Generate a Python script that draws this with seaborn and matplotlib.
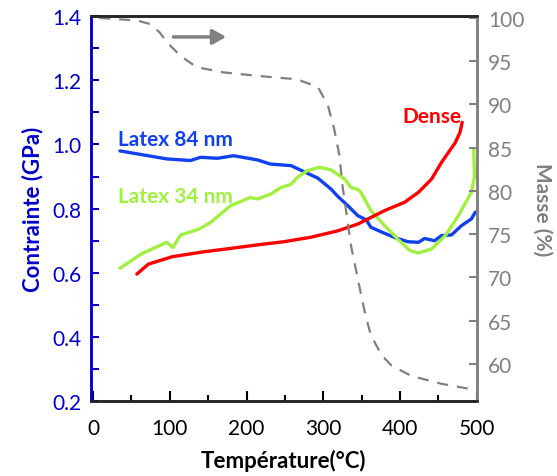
import numpy as np
import pandas as pd
import matplotlib
matplotlib.use("Agg")
from matplotlib import pyplot as plt
import seaborn as sns

# Latex 84 nm (contrainte, GPa)
t_84 = [35, 52, 96, 127, 140, 162, 183, 214, 231, 258, 275, 293, 310, 319, 332, 345,
        356, 362, 376, 393, 410, 424, 432, 445, 454, 467, 480, 493, 498]
s_84 = [0.98, 0.973, 0.955, 0.95, 0.96, 0.957, 0.965, 0.952, 0.939, 0.934, 0.915, 0.895,
        0.861, 0.838, 0.809, 0.778, 0.765, 0.742, 0.727, 0.71, 0.697, 0.695, 0.707, 0.70,
        0.716, 0.718, 0.747, 0.768, 0.789]

# Latex 34 nm
t_34 = [35, 63, 96, 104, 114, 138, 153, 179, 205, 214, 231, 245, 258, 266, 279, 295,
        310, 328, 336, 345, 349, 362, 380, 397, 413, 424, 441, 459, 476, 493, 497, 496]
s_34 = [0.614, 0.659, 0.695, 0.679, 0.718, 0.736, 0.757, 0.809, 0.835, 0.83, 0.845, 0.866,
        0.876, 0.897, 0.918, 0.929, 0.921, 0.892, 0.866, 0.86, 0.851, 0.794, 0.747, 0.705,
        0.669, 0.662, 0.674, 0.716, 0.778, 0.851, 0.90, 0.986]

# Dense
t_dense = [57, 72, 103, 140, 179, 214, 249, 284, 319, 345, 380, 406, 424, 441, 454,
           472, 478, 481]
s_dense = [0.596, 0.627, 0.65, 0.664, 0.676, 0.687, 0.697, 0.711, 0.731, 0.752, 0.794,
           0.82, 0.851, 0.892, 0.944, 1.006, 1.037, 1.069]

# Masse (%) - ATG
t_masse = [8, 57, 74, 87, 96, 114, 135, 170, 214, 266, 293, 306, 314, 321, 325, 330,
           336, 345, 354, 362, 376, 389, 415, 454, 498]
masse = [100.0, 99.7, 99.3, 98.3, 97.2, 95.6, 94.3, 93.7, 93.3, 92.9, 92.0, 89.9, 87.2,
         84.1, 80.6, 77.5, 73.7, 69.8, 66.0, 63.3, 61.0, 59.8, 58.6, 57.7, 57.0]

blue = "#1040F0"
axis_blue = "#0000CC"
green = "#A0F040"
red = "#FF0000"
grey = "#808080"

sns.set_style("ticks")
plt.rcParams["font.family"] = ["Lato", "DejaVu Sans"]

fig = plt.figure(figsize=(5.57, 4.77), dpi=100)
ax = fig.add_axes([0.163, 0.157, 0.693, 0.807])
ax2 = ax.twinx()

sns.lineplot(x=t_84, y=s_84, ax=ax, color=blue, lw=2.4, sort=False, estimator=None)
sns.lineplot(x=t_34, y=s_34, ax=ax, color=green, lw=2.4, sort=False, estimator=None)
sns.lineplot(x=t_dense, y=s_dense, ax=ax, color=red, lw=2.4, sort=False, estimator=None)
sns.lineplot(x=t_masse, y=masse, ax=ax2, color=grey, lw=1.6, sort=False, estimator=None,
             linestyle=(0, (5, 4)))

ax.set_xlim(-3, 500)
ax.set_ylim(0.2, 1.4)
ax2.set_ylim(55.7, 100.2)

ax.set_xticks(range(0, 501, 100))
ax.set_xticks(range(0, 501, 50), minor=True)
ax.set_yticks([0.2, 0.4, 0.6, 0.8, 1.0, 1.2, 1.4])
ax.set_yticklabels(["0.2", "0.4", "0.6", "0.8", "1.0", "1.2", "1.4"])
ax.set_yticks(np.arange(0.2, 1.41, 0.1), minor=True)
ax2.set_yticks(range(60, 101, 5))

ax.tick_params(axis="x", which="both", direction="in", colors="black", labelsize=15, width=1.5, pad=12)
ax.tick_params(axis="x", which="major", length=7)
ax.tick_params(axis="x", which="minor", length=4)
ax.tick_params(axis="y", which="both", direction="in", colors=axis_blue, labelsize=15, width=1.5, length=6, pad=7)
ax2.tick_params(axis="y", direction="in", colors=grey, labelsize=15, width=1.5, length=6, pad=8)

for a in (ax, ax2):
    for sp in a.spines.values():
        sp.set_linewidth(1.8)
ax.spines["left"].set_color(axis_blue)
ax2.spines["left"].set_color(axis_blue)
ax2.spines["right"].set_color(grey)
ax.spines["right"].set_color(grey)
ax.spines["top"].set_color("black")
ax.spines["bottom"].set_color("black")

ax.set_xlabel("Température(°C)", fontsize=16, fontweight="bold", color="black", labelpad=8)
ax.set_ylabel("Contrainte (GPa)", fontsize=16, fontweight="bold", color=axis_blue, labelpad=6)
ax2.set_ylabel("Masse (%)", fontsize=15, fontweight="bold", color=grey, rotation=270, labelpad=20)

ax.text(33, 1.017, "Latex 84 nm", color=blue, fontsize=15, fontweight="bold", va="center")
ax.text(33, 0.84, "Latex 34 nm", color=green, fontsize=15, fontweight="bold", va="center")
ax.text(480, 1.09, "Dense", color=red, fontsize=15, fontweight="bold", va="center", ha="right")

ax2.annotate("", xy=(177, 97.8), xytext=(101, 97.8),
             arrowprops=dict(arrowstyle="-|>,head_length=0.8,head_width=0.45", color=grey, lw=2.5))

fig.savefig("out.png", dpi=100)
